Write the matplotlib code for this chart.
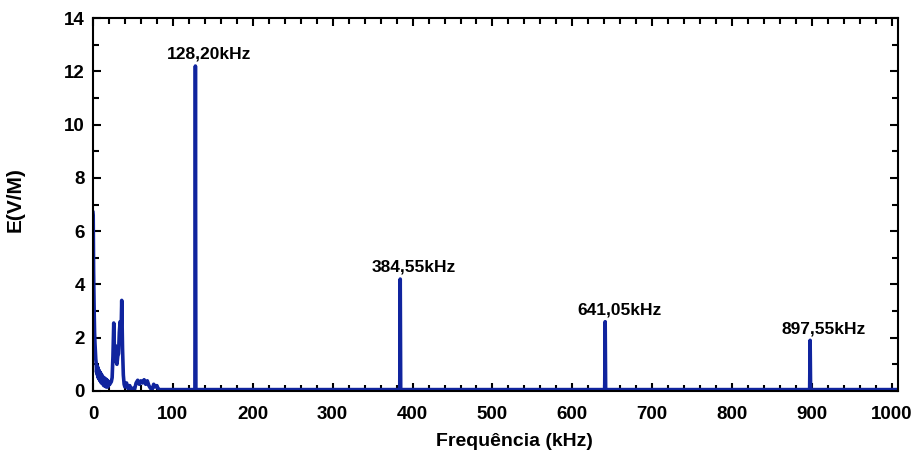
import numpy as np
from matplotlib import pyplot as plt
from matplotlib.ticker import MultipleLocator

plt.rcParams['font.family'] = ['Liberation Sans', 'DejaVu Sans']
plt.rcParams['font.weight'] = 'bold'

# low-frequency content (kHz, V/m)
low_freq = [0, 0.3, 0.8, 1.5, 2, 2.5, 3, 3.5, 4, 4.5, 5, 5.5, 6, 6.5, 7, 7.5, 8, 8.5, 9, 9.5,
            10, 10.5, 11, 11.5, 12, 12.5, 13, 13.5, 14, 14.5, 15, 15.5, 16, 16.5, 17, 17.5,
            18, 18.5, 19, 19.5, 20, 21, 22, 23, 24, 25, 26, 27, 28, 29, 30, 31, 32, 33, 34,
            35, 36, 37, 38, 39, 40, 42, 44, 46, 48, 50, 52, 54, 56, 58, 60, 62, 64, 66, 68,
            70, 72, 74, 76, 78, 80, 82, 84]
low_amp = [6.7, 6.6, 4.5, 3.0, 2.2, 1.8, 1.5, 1.2, 1.05, 0.7, 0.95, 0.6, 0.9, 0.5, 0.8, 0.45,
           0.75, 0.4, 0.7, 0.35, 0.65, 0.3, 0.6, 0.3, 0.55, 0.25, 0.5, 0.2, 0.5, 0.2, 0.45,
           0.2, 0.45, 0.15, 0.4, 0.2, 0.4, 0.15, 0.35, 0.2, 0.35, 0.25, 0.3, 0.35, 0.5, 1.3,
           2.55, 1.4, 1.7, 1.1, 1.0, 1.3, 1.4, 2.2, 2.6, 1.9, 3.4, 1.6, 0.6, 0.25, 0.15, 0.3,
           0.08, 0.2, 0.06, 0.1, 0.05, 0.3, 0.4, 0.25, 0.38, 0.3, 0.42, 0.25, 0.38, 0.2, 0.1,
           0.05, 0.25, 0.15, 0.2, 0.05, 0.05]

# harmonic peaks
peak_freq = [128.20, 384.55, 641.05, 897.55]
peak_amp = [12.2, 4.2, 2.6, 1.9]
peak_labels = ["128,20kHz", "384,55kHz", "641,05kHz", "897,55kHz"]
baseline = 0.05

# build the spectrum: low part, then flat baseline with narrow spikes
freq = list(low_freq)
amp = list(low_amp)
for f, a in zip(peak_freq, peak_amp):
    freq += [f - 0.6, f, f + 0.6]
    amp += [baseline, a, baseline]
freq.append(1010)
amp.append(baseline)
freq = np.array(freq)
amp = np.array(amp)

fig = plt.figure(figsize=(9.15, 4.53), dpi=100)
ax = fig.add_axes([0.1016, 0.137, 0.8798, 0.823])
color = "#10249e"
ax.plot(freq, amp, color=color, linewidth=2.6)

for f, a, lab in zip(peak_freq, peak_amp, peak_labels):
    ax.annotate(lab, (f, a), xytext=(10, 3), textcoords="offset points",
                ha="center", va="bottom", fontsize=12.5, fontweight="bold")

ax.set_xlim(0, 1007.5)
ax.set_ylim(0, 14)
ax.xaxis.set_major_locator(MultipleLocator(100))
ax.xaxis.set_minor_locator(MultipleLocator(20))
ax.yaxis.set_major_locator(MultipleLocator(2))
ax.yaxis.set_minor_locator(MultipleLocator(1))
ax.tick_params(which="both", direction="in", top=True, right=True, labelsize=13.5, width=1.5)
ax.tick_params(axis="x", which="major", length=6, pad=11)
ax.tick_params(axis="y", which="major", length=6, pad=6)
ax.tick_params(which="minor", length=4)
for s in ax.spines.values():
    s.set_linewidth(1.5)

ax.set_xlabel("Frequência (kHz)", fontsize=14, fontweight="bold")
ax.xaxis.set_label_coords(0.524, -0.112)
ax.set_ylabel("E(V/M)", fontsize=15, fontweight="bold")
ax.yaxis.set_label_coords(-0.085, 0.512)

fig.savefig("out.png", dpi=100)
